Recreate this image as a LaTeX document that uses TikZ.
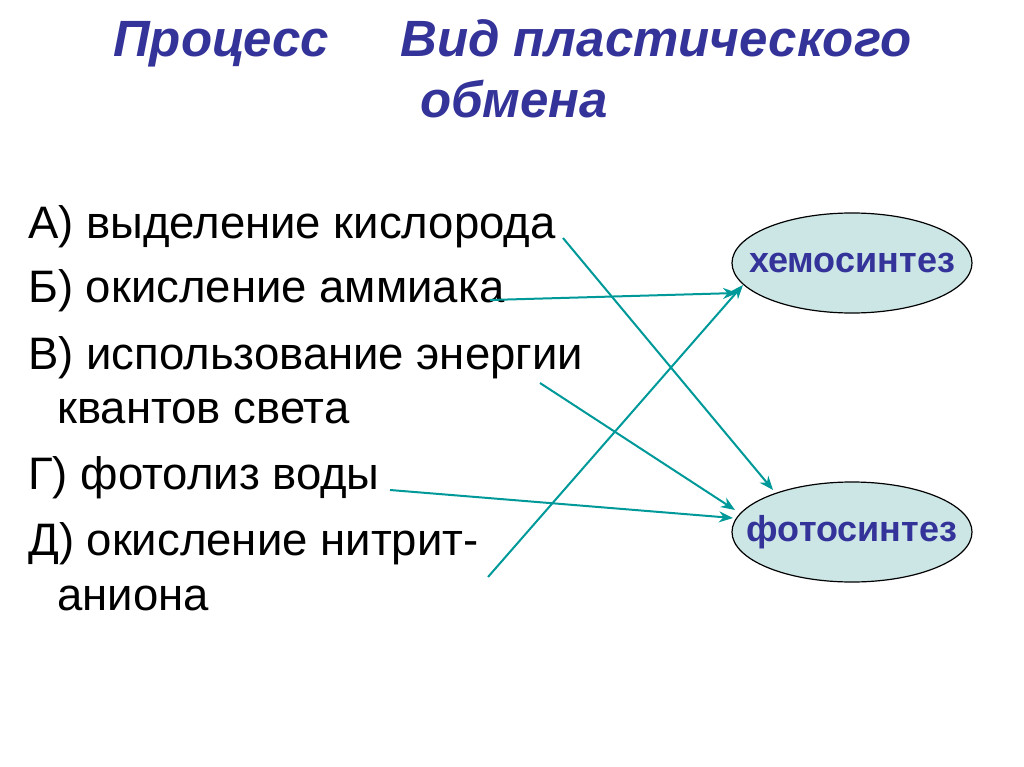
\documentclass[tikz,border=0pt]{standalone}
\usepackage{fontspec}
\setmainfont{Liberation Sans}
\usetikzlibrary{shapes.geometric,arrows.meta}
\definecolor{ttl}{HTML}{333399}
\definecolor{tealc}{HTML}{009999}
\definecolor{ellf}{HTML}{CCE6E6}
\begin{document}
\begin{tikzpicture}[x=1pt,y=-1pt,
 ttxt/.style={font=\fontsize{51}{60}\selectfont\bfseries\itshape,text=ttl,anchor=base west,inner sep=0},
 item/.style={font=\fontsize{45.5}{54}\selectfont,anchor=base west,inner sep=0},
 ell/.style={ellipse,draw=black,line width=1.2pt,fill=ellf,minimum width=240pt,minimum height=100pt,inner sep=0,font=\fontsize{36}{42}\selectfont\bfseries,text=ttl},
 arr/.style={draw=tealc,line width=2pt,-{Stealth[length=14pt,width=11pt]}}]
\useasboundingbox (0,0) rectangle (1024,767);
\node[ttxt] (t1) at (113,57) {Процесс};
\node[ttxt] (t2) at (400,57) {Вид пластического};
\node[ttxt] (t3) at (420,118) {обмена};
\node[item] (a) at (28,238) {А) выделение кислорода};
\node[item] (b) at (28,302) {Б) окисление аммиака};
\node[item] (c) at (28,369) {В) использование энергии};
\node[item] (c2) at (57,423) {квантов света};
\node[item] (g) at (28,489) {Г) фотолиз воды};
\node[item] (d) at (28,555) {Д) окисление нитрит-};
\node[item] (d2) at (57,610) {аниона};
\node[ell] (h) at (852,263) {};
\node[ell] (f) at (852,532) {};
\node[font=\fontsize{36}{42}\selectfont\bfseries,text=ttl] (ht) at (h.center) {хемосинтез};
\node[font=\fontsize{36}{42}\selectfont\bfseries,text=ttl] (ft) at (f.center) {фотосинтез};
\coordinate (pa) at (563,238);
\coordinate (pb) at (490,300);
\coordinate (pc) at (540,383);
\coordinate (pg) at (390,490);
\coordinate (pd) at (488,577);
\draw[arr] (pa) -- (773,490);
\draw[arr] (pb) -- (737,293);
\draw[arr] (pc) -- (735,510);
\draw[arr] (pg) -- (733,518);
\draw[arr] (pd) -- (743,285);
\end{tikzpicture}
\end{document}
